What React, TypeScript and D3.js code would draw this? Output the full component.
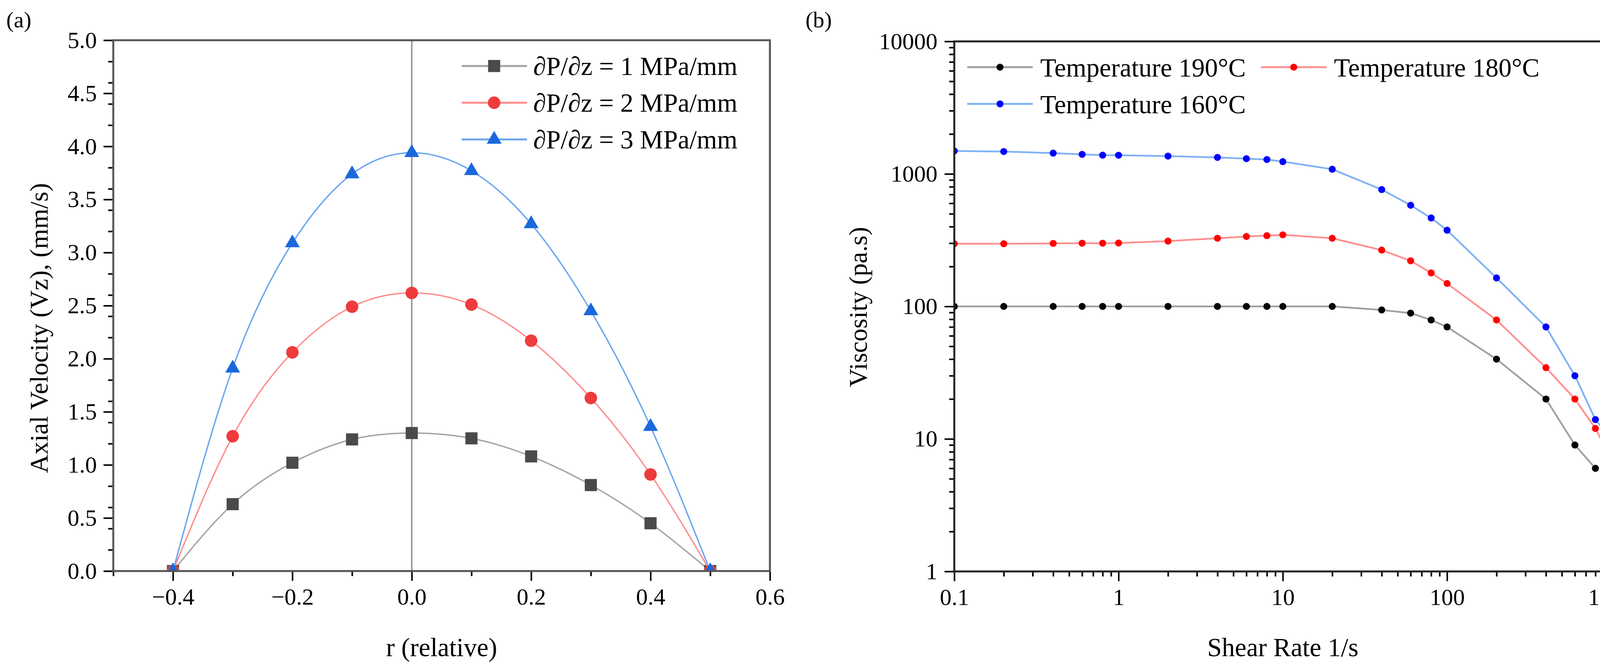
import { useEffect, useRef } from "react"
import * as d3 from "d3"

const W = 4202
const H = 1700
const FONT = "'Liberation Serif', 'Times New Roman', serif"

// (a) axial velocity profiles
const radius = [-0.4, -0.3, -0.2, -0.1, 0, 0.1, 0.2, 0.3, 0.4, 0.5]
const vzGrad1 = [0, 0.63, 1.02, 1.24, 1.3, 1.25, 1.08, 0.81, 0.45, 0]
const vzGrad2 = [0, 1.27, 2.06, 2.49, 2.62, 2.51, 2.17, 1.63, 0.91, 0]
const vzGrad3 = [0, 1.91, 3.09, 3.74, 3.94, 3.77, 3.27, 2.45, 1.36, 0]
const gradLabels = ["∂P/∂z = 1 MPa/mm", "∂P/∂z = 2 MPa/mm", "∂P/∂z = 3 MPa/mm"]

// (b) viscosity curves
const shearRate = [0.1, 0.2, 0.4, 0.6, 0.8, 1, 2, 4, 6, 8, 10, 20, 40, 60, 80, 100, 200, 400, 600, 800, 1000]
const visc190 = [100, 100, 100, 100, 100, 100, 100, 100, 100, 100, 100, 100, 94, 89, 79, 70, 40, 20, 9, 6]
const visc180 = [297, 297, 299, 300, 300, 301, 311, 327, 337, 342, 347, 327, 266, 221, 179, 149, 79, 34.5, 20, 12, 7]
const visc160 = [1490, 1475, 1435, 1405, 1385, 1383, 1362, 1333, 1303, 1284, 1238, 1084, 762, 580, 465, 376, 164, 70, 30, 14, 10]
const tempLabels = ["Temperature 190°C", "Temperature 180°C", "Temperature 160°C"]

type Sel = d3.Selection<SVGGElement, unknown, null, undefined>

function styleAxis(g: Sel, fontSize: number) {
  g.attr("font-family", FONT).attr("font-size", fontSize)
  g.select(".domain").remove()
  g.selectAll(".tick line").attr("stroke", "#000").attr("stroke-width", 4)
  g.selectAll(".tick text")
    .attr("fill", "#000")
    .attr("font-family", FONT)
    .style("font-family", FONT)
    .style("font-size", `${fontSize}px`)
}

export default function App() {
  const svgRef = useRef<SVGSVGElement>(null)

  useEffect(() => {
    if (!svgRef.current) return
    const svg = d3.select(svgRef.current)
    svg.selectAll("*").remove()
    svg.append("rect").attr("width", W).attr("height", H).attr("fill", "#fff")
    const defs = svg.append("defs")

    // ---------- panel (a) ----------
    const xa = d3.scaleLinear().domain([-0.5, 0.6]).range([290, 1971])
    const ya = d3.scaleLinear().domain([0, 5]).range([1462, 103])
    const ga = svg.append("g")

    defs.append("clipPath").attr("id", "clipA").append("rect")
      .attr("x", xa.range()[0]).attr("y", ya.range()[1])
      .attr("width", xa.range()[1] - xa.range()[0]).attr("height", ya.range()[0] - ya.range()[1])

    // zero line
    ga.append("line")
      .attr("x1", xa(0)).attr("x2", xa(0))
      .attr("y1", ya(0)).attr("y2", ya(5))
      .attr("stroke", "#999").attr("stroke-width", 4)

    const seriesA = [
      { values: vzGrad1, line: "#a3a3a3", fill: "#4a4a4a", symbol: d3.symbolSquare, size: 31 * 31 },
      { values: vzGrad2, line: "#ff8c8c", fill: "#ef3b3b", symbol: d3.symbolCircle, size: Math.PI * 16 * 16 },
      { values: vzGrad3, line: "#6aa4ef", fill: "#1a68dc", symbol: d3.symbolTriangle, size: 625 },
    ]

    const lineA = d3.line<number>()
      .x((_, i) => xa(radius[i]))
      .y((d) => ya(d))
      .curve(d3.curveNatural)

    const dataA = ga.append("g").attr("clip-path", "url(#clipA)")
    seriesA.forEach((s) => {
      dataA.append("path")
        .attr("d", lineA(s.values))
        .attr("fill", "none")
        .attr("stroke", s.line)
        .attr("stroke-width", 3.5)
      dataA.selectAll(null)
        .data(s.values)
        .enter()
        .append("path")
        .attr("d", d3.symbol().type(s.symbol).size(s.size)())
        .attr("transform", (d, i) => `translate(${xa(radius[i])},${ya(d)})`)
        .attr("fill", s.fill)
    })

    // axes
    const xMajorA = xa.ticks(5)
    const xMinorA = xa.ticks(10).filter((v) => !xMajorA.some((m) => Math.abs(m - v) < 1e-9))
    const yMajorA = ya.ticks(10)
    const yMinorA = ya.ticks(20).filter((v) => !yMajorA.some((m) => Math.abs(m - v) < 1e-9))

    const axAB = ga.append("g").attr("transform", `translate(0,${ya(0)})`)
      .call(d3.axisBottom(xa).tickValues(xMajorA).tickSize(25).tickPadding(18).tickFormat(d3.format(".1f")))
    styleAxis(axAB, 60)
    const axABm = ga.append("g").attr("transform", `translate(0,${ya(0)})`)
      .call(d3.axisBottom(xa).tickValues(xMinorA).tickSize(13).tickFormat(() => ""))
    styleAxis(axABm, 60)
    const axAL = ga.append("g").attr("transform", `translate(${xa(-0.5)},0)`)
      .call(d3.axisLeft(ya).tickValues(yMajorA).tickSize(25).tickPadding(17).tickFormat(d3.format(".1f")))
    styleAxis(axAL, 60)
    const axALm = ga.append("g").attr("transform", `translate(${xa(-0.5)},0)`)
      .call(d3.axisLeft(ya).tickValues(yMinorA).tickSize(13).tickFormat(() => ""))
    styleAxis(axALm, 60)

    ga.append("rect")
      .attr("x", xa.range()[0]).attr("y", ya.range()[1])
      .attr("width", xa.range()[1] - xa.range()[0]).attr("height", ya.range()[0] - ya.range()[1])
      .attr("fill", "none").attr("stroke", "#555").attr("stroke-width", 5)

    // legend (a)
    const legA = ga.append("g")
    seriesA.forEach((s, i) => {
      const cy = 169 + i * 94
      legA.append("line").attr("x1", 1182).attr("x2", 1349).attr("y1", cy).attr("y2", cy)
        .attr("stroke", s.line).attr("stroke-width", 5)
      legA.append("path").attr("d", d3.symbol().type(s.symbol).size(s.size)())
        .attr("transform", `translate(1265,${cy})`).attr("fill", s.fill)
      legA.append("text").attr("x", 1365).attr("y", cy + 23)
        .style("font-family", FONT).style("font-size", "67px")
        .text(gradLabels[i])
    })

    ga.append("text").attr("x", (xa.range()[0] + xa.range()[1]) / 2).attr("y", 1680)
      .attr("text-anchor", "middle").style("font-family", FONT).style("font-size", "67px")
      .text("r (relative)")
    ga.append("text").attr("transform", "translate(122,840) rotate(-90)")
      .attr("text-anchor", "middle").style("font-family", FONT).style("font-size", "66px")
      .text("Axial Velocity (Vz), (mm/s)")
    ga.append("text").attr("x", 16).attr("y", 70)
      .style("font-family", FONT).style("font-size", "58px").text("(a)")

    // ---------- panel (b) ----------
    const xb = d3.scaleLog().domain([0.1, 1000]).range([2443, 4125])
    const yb = d3.scaleLog().domain([1, 10000]).range([1463, 106])
    const gb = svg.append("g")

    defs.append("clipPath").attr("id", "clipB").append("rect")
      .attr("x", xb.range()[0]).attr("y", yb.range()[1])
      .attr("width", xb.range()[1] - xb.range()[0]).attr("height", yb.range()[0] - yb.range()[1])

    const seriesB = [
      { values: visc190, line: "#a0a0a0", fill: "#000" },
      { values: visc180, line: "#ff9090", fill: "#ff0000" },
      { values: visc160, line: "#80b2f6", fill: "#0000ff" },
    ]

    const lineB = d3.line<number>()
      .x((_, i) => xb(shearRate[i]))
      .y((d) => yb(d))

    const dataB = gb.append("g").attr("clip-path", "url(#clipB)")
    seriesB.forEach((s) => {
      dataB.append("path")
        .attr("d", lineB(s.values))
        .attr("fill", "none")
        .attr("stroke", s.line)
        .attr("stroke-width", 4.5)
        .attr("stroke-linejoin", "round")
      dataB.selectAll(null)
        .data(s.values)
        .enter()
        .append("circle")
        .attr("cx", (_, i) => xb(shearRate[i]))
        .attr("cy", (d) => yb(d))
        .attr("r", 9)
        .attr("fill", s.fill)
    })

    const isDecade = (v: number) => Math.abs(Math.log10(v) - Math.round(Math.log10(v))) < 1e-6
    const xMajorB = xb.ticks().filter(isDecade)
    const xMinorB = xb.ticks().filter((v) => !isDecade(v))
    const yMajorB = yb.ticks().filter(isDecade)
    const yMinorB = yb.ticks().filter((v) => !isDecade(v))
    const fmtB = (d: d3.NumberValue) => d3.format("~g")(+d)

    const axBB = gb.append("g").attr("transform", `translate(0,${yb(1)})`)
      .call(d3.axisBottom(xb).tickValues(xMajorB).tickSize(25).tickPadding(18).tickFormat(fmtB))
    styleAxis(axBB, 60)
    const axBBm = gb.append("g").attr("transform", `translate(0,${yb(1)})`)
      .call(d3.axisBottom(xb).tickValues(xMinorB).tickSize(13).tickFormat(() => ""))
    styleAxis(axBBm, 60)
    const axBL = gb.append("g").attr("transform", `translate(${xb(0.1)},0)`)
      .call(d3.axisLeft(yb).tickValues(yMajorB).tickSize(25).tickPadding(18).tickFormat(fmtB))
    styleAxis(axBL, 60)
    const axBLm = gb.append("g").attr("transform", `translate(${xb(0.1)},0)`)
      .call(d3.axisLeft(yb).tickValues(yMinorB).tickSize(13).tickFormat(() => ""))
    styleAxis(axBLm, 60)

    gb.append("rect")
      .attr("x", xb.range()[0]).attr("y", yb.range()[1])
      .attr("width", xb.range()[1] - xb.range()[0]).attr("height", yb.range()[0] - yb.range()[1])
      .attr("fill", "none").attr("stroke", "#222").attr("stroke-width", 5)

    // legend (b)
    const legPos = [
      { x: 2476, y: 172 },
      { x: 3228, y: 172 },
      { x: 2476, y: 266 },
    ]
    seriesB.forEach((s, i) => {
      const p = legPos[i]
      gb.append("line").attr("x1", p.x).attr("x2", p.x + 168).attr("y1", p.y).attr("y2", p.y)
        .attr("stroke", s.line).attr("stroke-width", 5)
      gb.append("circle").attr("cx", p.x + 84).attr("cy", p.y).attr("r", 9).attr("fill", s.fill)
      gb.append("text").attr("x", p.x + 187).attr("y", p.y + 24)
        .style("font-family", FONT).style("font-size", "67px")
        .text(tempLabels[i])
    })

    gb.append("text").attr("x", (xb.range()[0] + xb.range()[1]) / 2).attr("y", 1680)
      .attr("text-anchor", "middle").style("font-family", FONT).style("font-size", "67px")
      .text("Shear Rate 1/s")
    gb.append("text").attr("transform", "translate(2219,786) rotate(-90)")
      .attr("text-anchor", "middle").style("font-family", FONT).style("font-size", "66px")
      .text("Viscosity (pa.s)")
    gb.append("text").attr("x", 2062).attr("y", 70)
      .style("font-family", FONT).style("font-size", "58px").text("(b)")
  }, [])

  return (
    <svg
      ref={svgRef}
      width={W}
      height={H}
      style={{ position: "absolute", left: 0, top: 0, display: "block" }}
    />
  )
}
